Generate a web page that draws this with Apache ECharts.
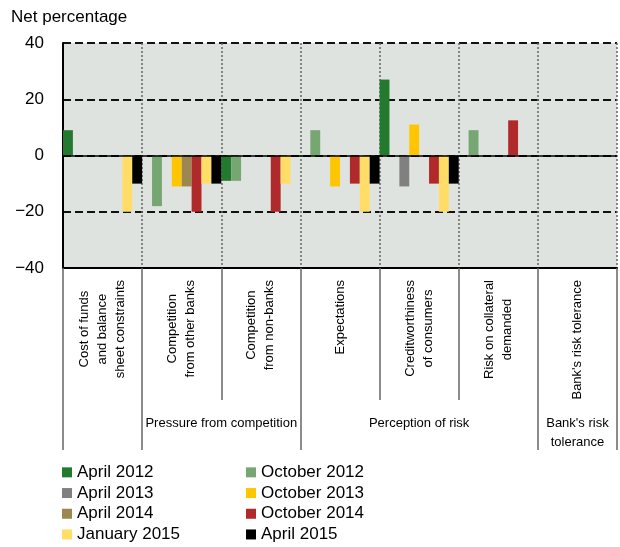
<!DOCTYPE html>
<html>
<head>
<meta charset="utf-8">
<script src="https://cdn.jsdelivr.net/npm/echarts@6/dist/echarts.min.js"></script>
<style>
  html, body { margin: 0; padding: 0; background: #fff; }
  #main { width: 620px; height: 547px; }
</style>
</head>
<body>
<div id="main"></div>
<script>
const categories = [
  "Cost of funds\nand balance\nsheet constraints",
  "Competition\nfrom other banks",
  "Competition\nfrom non-banks",
  "Expectations",
  "Creditworthiness\nof consumers",
  "Risk on collateral\ndemanded",
  "Bank's risk tolerance"
];
// category groups shown under the labels
const groupNames = ["Pressure from competition", "Perception of risk", "Bank's risk\ntolerance"];
const groupStart = [1, 3, 6];
const groupEnd = [3, 6, 7];

const seriesNames = ["April 2012", "October 2012", "April 2013", "October 2013",
  "April 2014", "October 2014", "January 2015", "April 2015"];
const apr2012 = [9, null, -9, null, 27, null, null];
const oct2012 = [null, -18, -9, 9, null, 9, null];
const apr2013 = [null, null, null, null, -11, null, null];
const oct2013 = [null, -11, null, -11, 11, null, null];
const apr2014 = [null, -11, null, null, null, null, null];
const oct2014 = [null, -20, -20, -10, -10, 12.5, null];
const jan2015 = [-20, -10, -10, -20, -20, null, null];
const apr2015 = [-10, -10, null, -10, -10, null, null];
const seriesData = [apr2012, oct2012, apr2013, oct2013, apr2014, oct2014, jan2015, apr2015];
const colors = ["#237a2e", "#76a672", "#808080", "#ffc600", "#9c8752", "#b0292b", "#ffdd66", "#000000"];

const yTicks = [-40, -20, 0, 20, 40];

const font = "'Liberation Sans', Arial, sans-serif";
const chart = echarts.init(document.getElementById("main"));

const groupCenters = groupStart.map((s, i) => (s + groupEnd[i]) / 2);
const longTicks = [0].concat(groupStart);

const series = seriesNames.map((name, i) => {
  const s = {
    name: name,
    type: "bar",
    data: seriesData[i],
    itemStyle: { color: colors[i] },
    barGap: "0%",
    barCategoryGap: "0%"
  };
  if (i === 0) {
    // solid zero line
    s.markLine = {
      silent: true,
      symbol: "none",
      label: { show: false },
      lineStyle: { color: "#000", type: "solid", width: 1.5 },
      data: [{ yAxis: 0 }]
    };
  }
  return s;
});

const legendText = { fontFamily: font, fontSize: 17, lineHeight: 20.7, color: "#000" };

const option = {
  animation: false,
  textStyle: { fontFamily: font },
  title: {
    text: "Net percentage",
    left: 11,
    top: 9,
    padding: 0,
    textStyle: { fontFamily: font, fontSize: 17, fontWeight: "normal", color: "#000" }
  },
  legend: [
    {
      orient: "vertical",
      left: 62,
      top: 462,
      padding: 0,
      itemWidth: 10,
      itemHeight: 10,
      itemGap: 0,
      icon: "rect",
      data: [seriesNames[0], seriesNames[2], seriesNames[4], seriesNames[6]],
      textStyle: legendText
    },
    {
      orient: "vertical",
      left: 246,
      top: 462,
      padding: 0,
      itemWidth: 10,
      itemHeight: 10,
      itemGap: 0,
      icon: "rect",
      data: [seriesNames[1], seriesNames[3], seriesNames[5], seriesNames[7]],
      textStyle: legendText
    }
  ],
  grid: {
    left: 63,
    right: 1,
    top: 43,
    bottom: 279,
    show: true,
    backgroundColor: "#dfe3df",
    borderWidth: 0
  },
  xAxis: [
    {
      type: "category",
      data: categories,
      position: "bottom",
      axisLine: { onZero: false, lineStyle: { color: "#000", width: 2 } },
      axisTick: { show: true, interval: 0, length: 132, lineStyle: { color: "#666", width: 1.5 } },
      splitLine: { show: true, interval: 0, lineStyle: { color: "#666", type: [2, 2], width: 1.5 } },
      axisLabel: {
        interval: 0,
        rotate: 90,
        margin: 12,
        color: "#000",
        formatter: v => v.split("\n").map(l => "{c|" + l + "}").join("\n"),
        rich: {
          c: { align: "center", fontFamily: font, fontSize: 13, lineHeight: 18, color: "#000" }
        }
      }
    },
    {
      type: "category",
      data: categories,
      position: "bottom",
      axisLine: { show: false, onZero: false },
      axisTick: {
        show: true,
        length: 182,
        interval: idx => longTicks.indexOf(idx) >= 0,
        lineStyle: { color: "#666", width: 1.5 }
      },
      axisLabel: { show: false },
      splitLine: { show: false }
    },
    {
      type: "value",
      position: "bottom",
      min: 0,
      max: categories.length,
      interval: 0.5,
      axisLine: { show: false, onZero: false },
      axisTick: { show: false },
      splitLine: { show: false },
      axisLabel: {
        margin: 146,
        verticalAlign: "top",
        fontFamily: font,
        fontSize: 13,
        lineHeight: 19,
        color: "#000",
        formatter: v => {
          const k = groupCenters.indexOf(v);
          return k >= 0 ? groupNames[k] : "";
        }
      }
    }
  ],
  yAxis: {
    type: "value",
    min: -40,
    max: 40,
    interval: 20,
    axisLine: { show: true, lineStyle: { color: "#000", width: 2 } },
    axisTick: { show: false },
    axisLabel: {
      margin: 19,
      fontFamily: font,
      fontSize: 17,
      color: "#000",
      formatter: v => yTicks.indexOf(v) >= 0 ? String(v).replace("-", "\u2212") : ""
    },
    splitLine: { show: true, lineStyle: { color: "#111", type: [8, 4], width: 2 } }
  },
  series: series
};

chart.setOption(option);
</script>
</body>
</html>
